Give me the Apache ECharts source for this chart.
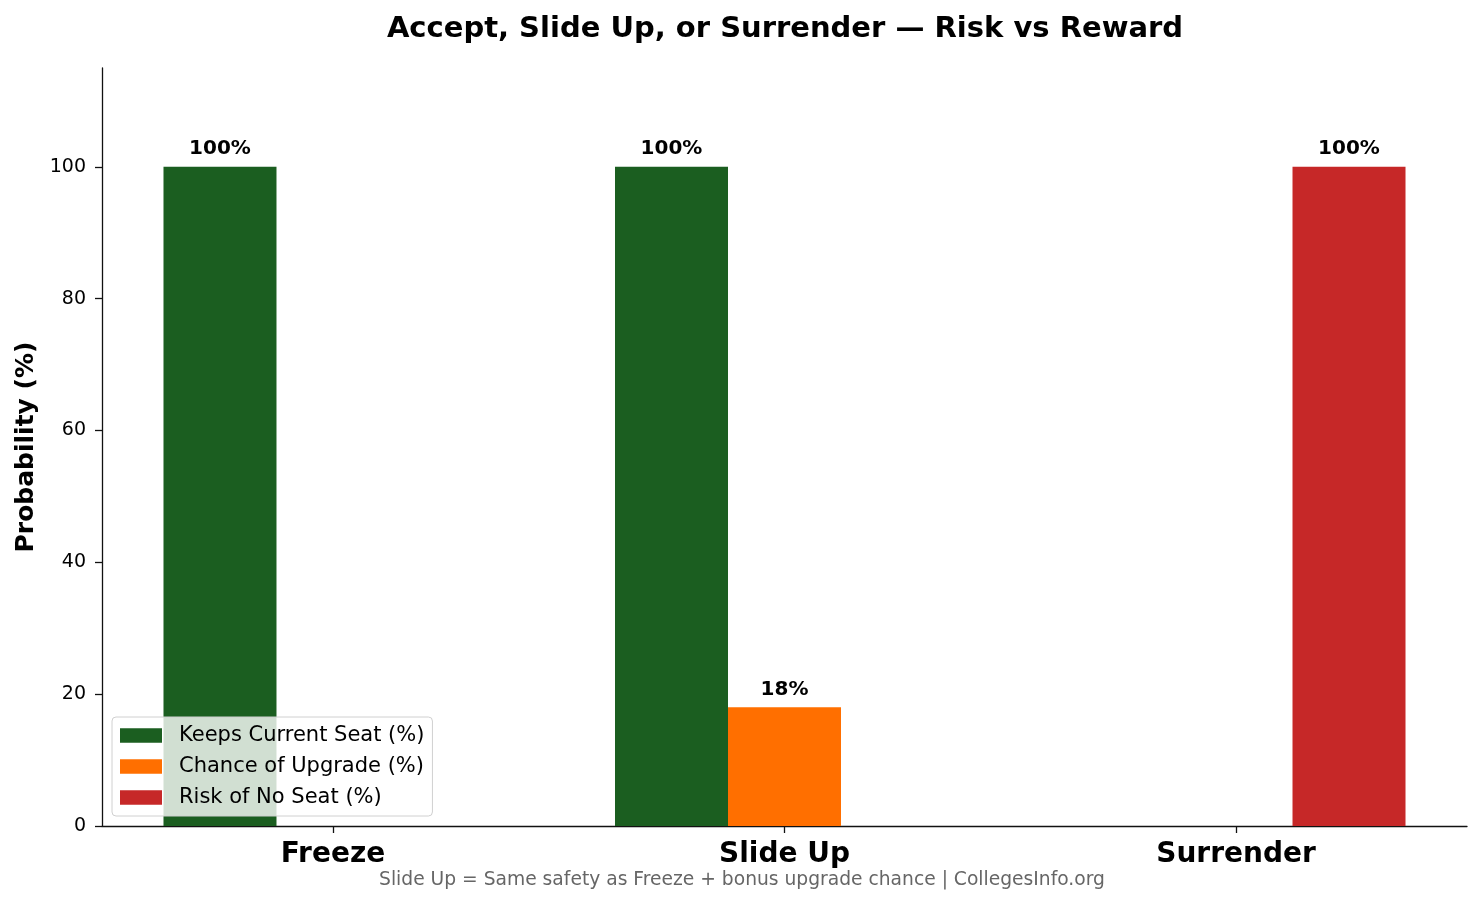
<!DOCTYPE html>
<html>
<head>
<meta charset="utf-8">
<script src="https://cdn.jsdelivr.net/npm/echarts@6/dist/echarts.min.js"></script>
<style>
html,body{margin:0;padding:0;background:#fff;}
#chart{width:1482px;height:902px;}
</style>
</head>
<body>
<div id="chart"></div>
<script>
const categories = ['Freeze', 'Slide Up', 'Surrender'];
const keepsSeat = [100, 100, 0];
const upgradeChance = [0, 18, 0];
const noSeatRisk = [0, 0, 100];
const seriesNames = ['Keeps Current Seat (%)', 'Chance of Upgrade (%)', 'Risk of No Seat (%)'];
const yTicks = [0, 20, 40, 60, 80, 100];

const FONT = 'DejaVu Sans';
const chart = echarts.init(document.getElementById('chart'), null, {renderer: 'canvas'});
const catIdx = categories.map((c, i) => i);
const toPairs = arr => arr.map((v, i) => [i, v]);

function labelCfg() {
  return {
    show: true,
    position: 'top',
    distance: 8,
    fontFamily: FONT,
    fontWeight: 'bold',
    fontSize: 20,
    color: '#000',
    formatter: p => (p.value[1] > 0 ? p.value[1] + '%' : '')
  };
}

const option = {
  animation: false,
  backgroundColor: '#fff',
  title: [
    {
      text: 'Accept, Slide Up, or Surrender — Risk vs Reward',
      left: 780, top: 10, textAlign: 'center',
      textStyle: {fontFamily: FONT, fontWeight: 'bold', fontSize: 29, color: '#000'}
    },
    {
      text: 'Slide Up = Same safety as Freeze + bonus upgrade chance | CollegesInfo.org',
      left: 737, top: 866, textAlign: 'center',
      textStyle: {fontFamily: FONT, fontWeight: 'normal', fontSize: 18.7, color: '#666'}
    }
  ],
  legend: {
    orient: 'vertical',
    left: 112, top: 717,
    padding: [6.5, 8, 6.5, 8],
    itemGap: 7,
    itemWidth: 42, itemHeight: 14.6,
    icon: 'rect',
    backgroundColor: 'rgba(255,255,255,0.8)',
    borderColor: '#d0d0d0', borderWidth: 1, borderRadius: 4,
    textStyle: {fontFamily: FONT, fontSize: 21, color: '#000', lineHeight: 24, padding: [0, 0, 0, 12]},
    data: seriesNames
  },
  grid: {left: 102, right: 15, top: 68, bottom: 76, containLabel: false},
  xAxis: {
    type: 'value',
    min: -0.5116, max: 2.5116,
    splitLine: {show: false},
    axisLine: {show: true, onZero: false, lineStyle: {color: '#111', width: 1.3}},
    axisTick: {show: true, length: 7, lineStyle: {color: '#111', width: 1.3}, customValues: catIdx},
    axisLabel: {fontFamily: FONT, fontWeight: 'bold', fontSize: 28, color: '#000', margin: 15,
                customValues: catIdx, formatter: v => categories[Math.round(v)] || ''}
  },
  yAxis: {
    type: 'value',
    min: 0, max: 115, interval: 20,
    name: 'Probability (%)',
    nameLocation: 'middle',
    nameGap: 63,
    nameRotate: 90,
    nameTextStyle: {fontFamily: FONT, fontWeight: 'bold', fontSize: 25, color: '#000'},
    axisLine: {show: true, onZero: false, lineStyle: {color: '#111', width: 1.3}},
    axisTick: {show: true, length: 7, lineStyle: {color: '#111', width: 1.3}, customValues: yTicks},
    axisLabel: {fontFamily: FONT, fontSize: 19, color: '#000', margin: 16, customValues: yTicks},
    splitLine: {show: false}
  },
  series: [
    {name: seriesNames[0], type: 'bar', data: toPairs(keepsSeat), barWidth: 113, barGap: '0%',
     itemStyle: {color: '#1b5e20'}, label: labelCfg()},
    {name: seriesNames[1], type: 'bar', data: toPairs(upgradeChance), barWidth: 113, barGap: '0%',
     itemStyle: {color: '#ff6f00'}, label: labelCfg()},
    {name: seriesNames[2], type: 'bar', data: toPairs(noSeatRisk), barWidth: 113, barGap: '0%',
     itemStyle: {color: '#c62828'}, label: labelCfg()}
  ]
};
chart.setOption(option);
</script>
</body>
</html>
